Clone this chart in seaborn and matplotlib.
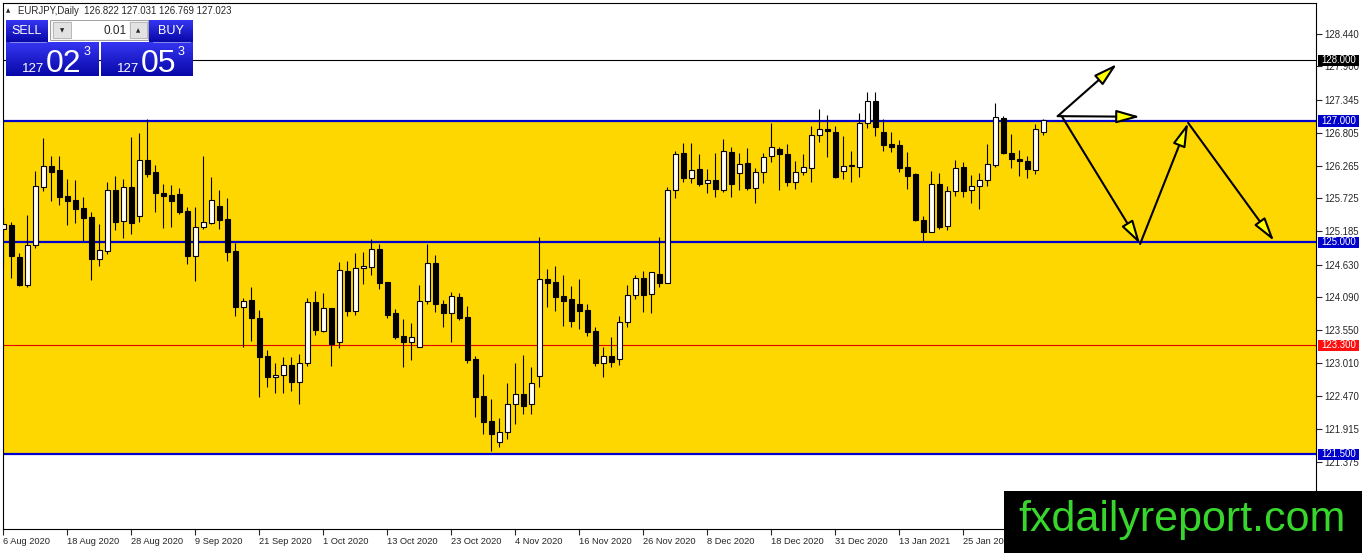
import numpy as np
import pandas as pd
import matplotlib
matplotlib.use('Agg')
import matplotlib.pyplot as plt
import matplotlib.transforms as mtransforms
from matplotlib.patches import Rectangle
from matplotlib.colors import LinearSegmentedColormap
import seaborn as sns

# EURJPY daily candles, 6 Aug 2020 onwards
opens = [125.218, 125.284, 124.761, 124.29, 124.954, 125.916, 126.257, 126.19, 125.762, 125.696,
         125.57, 125.42, 124.72, 124.86, 125.861, 125.355, 125.905, 125.438, 126.356, 126.164,
         125.806, 125.78, 125.795, 125.515, 124.778, 125.256, 125.322, 125.597, 125.383, 124.855,
         123.936, 124.046, 123.749, 123.12, 122.77, 122.81, 122.974, 122.70, 123.0, 124.02,
         123.54, 123.91, 123.36, 124.525, 123.87, 124.569, 124.596, 124.888, 124.35, 123.837,
         123.452, 123.358, 123.276, 124.03, 124.65, 123.98, 123.837, 124.09, 123.76, 123.073,
         122.467, 122.05, 121.697, 121.873, 122.33, 122.495, 122.33, 122.792, 124.387, 124.35,
         124.112, 124.057, 123.98, 123.88, 123.535, 123.001, 123.127, 123.067, 123.677, 124.129,
         124.404, 124.14, 124.475, 124.321, 125.861, 126.478, 126.054, 126.202, 125.971, 126.026,
         125.861, 126.494, 126.136, 126.312, 125.90, 126.153, 126.422, 126.538, 126.455, 125.999,
         126.153, 126.219, 126.769, 126.868, 126.813, 126.175, 126.257, 126.246, 126.961, 127.33,
         126.813, 126.615, 126.604, 126.246, 126.12, 125.366, 125.174, 125.96, 125.26, 125.85,
         126.246, 125.86, 125.927, 126.026, 126.274, 127.044, 126.466, 126.367, 126.345, 126.19,
         126.822]
highs = [125.559, 125.339, 124.827, 125.449, 126.175, 126.725, 126.422, 126.42, 126.043, 126.026,
         125.74, 125.504, 125.30, 126.0, 126.09, 126.037, 126.73, 126.797, 127.03, 126.274,
         125.96, 125.944, 125.889, 125.586, 125.586, 126.42, 126.07, 125.86, 125.724, 124.981,
         124.074, 124.255, 123.88, 123.22, 123.0, 123.11, 123.11, 123.155, 124.074, 124.195,
         124.167, 123.91, 124.679, 124.69, 124.816, 124.84, 125.047, 124.97, 124.35, 123.89,
         123.727, 123.66, 124.294, 124.97, 124.79, 124.046, 124.184, 124.156, 123.947, 123.122,
         122.825, 122.407, 122.094, 122.682, 123.0, 123.139, 122.935, 125.08, 124.552, 124.607,
         124.459, 124.277, 124.387, 123.98, 123.606, 123.265, 123.43, 123.782, 124.294, 124.46,
         124.53, 124.503, 125.091, 125.905, 126.505, 126.632, 126.643, 126.45, 126.2, 126.478,
         126.703, 126.577, 126.467, 126.56, 126.22, 126.478, 126.961, 126.576, 126.615, 126.34,
         126.455, 126.923, 127.198, 127.099, 126.923, 126.752, 126.505, 127.126, 127.473, 127.473,
         127.027, 126.813, 126.686, 126.483, 126.136, 125.438, 126.175, 126.147, 125.93, 126.356,
         126.33, 126.109, 126.136, 126.615, 127.29, 127.088, 126.78, 126.52, 126.423, 126.95,
         127.031]
lows = [124.624, 124.404, 124.283, 124.266, 124.899, 125.845, 125.685, 125.614, 125.284, 125.322,
        125.025, 124.376, 124.613, 124.80, 125.201, 125.075, 125.135, 125.339, 126.08, 125.504,
        125.229, 125.245, 125.465, 124.64, 124.365, 125.218, 125.30, 125.212, 124.695, 123.782,
        123.276, 123.375, 122.45, 122.605, 122.517, 122.517, 122.55, 122.33, 122.957, 123.47,
        123.524, 122.957, 123.248, 123.788, 123.798, 124.31, 124.459, 124.22, 123.744, 123.397,
        122.946, 123.056, 123.265, 123.98, 123.854, 123.595, 123.36, 123.716, 123.012, 122.12,
        121.835, 121.56, 121.626, 121.747, 122.0, 122.16, 122.16, 122.605, 123.936, 123.87,
        123.617, 123.595, 123.562, 123.452, 122.957, 122.78, 122.946, 122.973, 123.595, 124.057,
        123.854, 123.837, 124.255, 124.321, 125.724, 126.0, 125.982, 125.927, 125.806, 125.74,
        125.834, 125.74, 125.861, 125.861, 125.652, 125.971, 126.329, 125.861, 125.933, 125.878,
        126.109, 125.988, 126.648, 126.412, 126.065, 126.043, 126.0, 126.081, 126.879, 126.758,
        126.505, 126.494, 126.164, 125.872, 125.35, 125.025, 125.174, 125.218, 125.2, 125.768,
        125.751, 125.641, 125.542, 125.933, 126.246, 126.45, 126.219, 126.098, 126.054, 126.12,
        126.769]
closes = [125.295, 124.778, 124.294, 124.954, 125.927, 126.257, 126.164, 125.75, 125.685, 125.548,
          125.405, 124.72, 124.87, 125.861, 125.339, 125.905, 125.322, 126.356, 126.125, 125.817,
          125.762, 125.685, 125.504, 124.778, 125.245, 125.328, 125.696, 125.366, 124.844, 123.936,
          124.03, 123.744, 123.111, 122.77, 122.81, 122.974, 122.70, 123.0, 124.008, 123.55,
          123.91, 123.32, 124.54, 123.865, 124.569, 124.607, 124.888, 124.332, 123.80, 123.43,
          123.348, 123.43, 124.03, 124.65, 123.98, 123.837, 124.112, 123.744, 123.056, 122.45,
          122.038, 121.83, 121.862, 122.33, 122.495, 122.30, 122.682, 124.387, 124.33, 124.10,
          124.035, 123.705, 123.87, 123.523, 123.001, 123.127, 123.028, 123.677, 124.129, 124.404,
          124.129, 124.503, 124.321, 125.861, 126.45, 126.054, 126.191, 125.96, 126.026, 125.872,
          126.505, 125.96, 126.29, 125.889, 126.153, 126.411, 126.565, 126.45, 125.999, 126.153,
          126.235, 126.769, 126.862, 126.835, 126.081, 126.257, 126.26, 126.961, 127.33, 126.906,
          126.604, 126.576, 126.23, 126.098, 125.366, 125.174, 125.96, 125.256, 125.85, 126.23,
          125.85, 125.927, 126.026, 126.285, 127.06, 126.466, 126.367, 126.345, 126.208, 126.868,
          127.023]

date_labels = ['6 Aug 2020', '18 Aug 2020', '28 Aug 2020', '9 Sep 2020', '21 Sep 2020',
               '1 Oct 2020', '13 Oct 2020', '23 Oct 2020', '4 Nov 2020', '16 Nov 2020',
               '26 Nov 2020', '8 Dec 2020', '18 Dec 2020', '31 Dec 2020', '13 Jan 2021',
               '25 Jan 2021']
bars_per_label = 8

price_ticks = [128.440, 127.900, 127.345, 126.805, 126.265, 125.725, 125.185,
               124.630, 124.090, 123.550, 123.010, 122.470, 121.915, 121.375]

zone_low, zone_high = 121.5, 127.0
blue_levels = [127.0, 125.0, 121.5]
black_level = 128.0
red_level = 123.3

# hand drawn scenario arrows: (bar, price) points
arrow_up = [(131.8, 127.08), (139.2, 127.94)]
arrow_flat = [(131.8, 127.08), (142.1, 127.07)]
arrow_zigzag = [(132.3, 127.08), (142.1, 124.97), (148.1, 126.97), (158.85, 125.02)]

header = 'EURJPY,Daily  126.822 127.031 126.769 127.023'
bid_big, bid_small, bid_frac = '02', '127', '3'
ask_big, ask_small, ask_frac = '05', '127', '3'
lot = '0.01'

sns.set_style('white')
plt.rcParams['font.family'] = ['Liberation Sans', 'DejaVu Sans']

df = pd.DataFrame({'open': opens, 'high': highs, 'low': lows, 'close': closes})
df['bar'] = np.arange(len(df))
df['up'] = df['close'] >= df['open']
df['body'] = (df['close'] - df['open']).abs().clip(lower=0.012)
df['bottom'] = df[['open', 'close']].min(axis=1)

W, H = 1362, 553
fig = plt.figure(figsize=(W / 100, H / 100), dpi=100)
fig.patch.set_facecolor('white')
left, right, top, bottom = 3, 1316, 3, 529
ax = fig.add_axes([left / W, (H - bottom) / H, (right - left) / W, (bottom - top) / H])
ax.set_facecolor('white')

YELLOW = '#FFD700'
BLUE = '#0000CC'

ax.axhspan(zone_low, zone_high, color=YELLOW, lw=0, zorder=0)
for lv in blue_levels:
    ax.axhline(lv, color=BLUE, lw=1.6, zorder=2)
ax.axhline(black_level, color='black', lw=0.8, zorder=2)
ax.axhline(red_level, color='#E00000', lw=0.8, zorder=2)

ax.vlines(df['bar'], df['low'], df['high'], color='black', lw=0.8, zorder=3)
ax.bar(df['bar'], df['body'], bottom=df['bottom'], width=0.62,
       color=np.where(df['up'], 'white', 'black'), edgecolor='black', lw=0.8, zorder=4)

# scenario arrows
for path in [arrow_up, arrow_flat, arrow_zigzag]:
    for (x0, y0), (x1, y1) in zip(path[:-1], path[1:]):
        ax.annotate('', xy=(x1, y1), xytext=(x0, y0), zorder=6,
                    arrowprops=dict(arrowstyle='-|>,head_length=0.9,head_width=0.25',
                                    mutation_scale=16, fc='yellow', ec='black', lw=1.5,
                                    shrinkA=0, shrinkB=0))

xpx = lambda px: (px - 3.3) / 8.0
ax.set_xlim(xpx(left), xpx(right))
ax.set_ylim(127 - (bottom - 121) / 60.6, 127 + (121 - top) / 60.6)

ax.set_xticks(np.arange(len(date_labels)) * bars_per_label)
ax.set_xticklabels(date_labels, ha='left')
ax.yaxis.tick_right()
ax.set_yticks(price_ticks)
ax.set_yticklabels([f'{p:.3f}' for p in price_ticks])
ax.tick_params(axis='x', direction='out', length=4, width=0.8, pad=2, labelsize=6.7, bottom=True)
ax.tick_params(axis='y', direction='out', length=4, width=0.8, pad=2, labelsize=6.9, right=True)
for sp in ax.spines.values():
    sp.set_color('black')
    sp.set_linewidth(0.8)

# coloured level tags on the price scale
tr = mtransforms.blended_transform_factory(ax.transAxes, ax.transData)
tag_h = 11 / 60.6
for lv, col in [(black_level, 'black'), (127.0, BLUE), (125.0, BLUE),
                (red_level, '#FF1010'), (121.5, BLUE)]:
    ax.add_patch(Rectangle((1 + 2 / 1313, lv - tag_h / 2), 41 / 1313, tag_h, transform=tr,
                           facecolor=col, edgecolor='none', clip_on=False, zorder=10))
    ax.text(1 + 5 / 1313, lv, f'{lv:.3f}', transform=tr, color='white', fontsize=6.9,
            ha='left', va='center', clip_on=False, zorder=11)

# overlay in pixel coords for panel, header and logo
ov = fig.add_axes([0, 0, 1, 1], zorder=20)
ov.axis('off')
blue_cmap = LinearSegmentedColormap.from_list('btn', ['#3535f2', '#0808a8'])


def grad_box(x0, y0, x1, y1):
    ov.imshow(np.linspace(0, 1, 32).reshape(-1, 1), cmap=blue_cmap, aspect='auto',
              extent=(x0, x1, y1, y0), zorder=1)


grad_box(6, 20, 48, 42)
grad_box(149, 20, 193, 42)
grad_box(6, 42, 99, 76)
grad_box(101, 42, 193, 76)
ov.plot([10, 46], [42, 42], color='#8a8ae8', lw=0.7, zorder=2)
ov.plot([153, 190], [42, 42], color='#8a8ae8', lw=0.7, zorder=2)
ov.add_patch(Rectangle((50, 20), 98, 20, facecolor='#f4f4f4', edgecolor='#a0a0a0', lw=0.7, zorder=1))
ov.add_patch(Rectangle((53, 22), 18, 16, facecolor='#e2e2e2', edgecolor='#b0b0b0', lw=0.6, zorder=2))
ov.add_patch(Rectangle((72, 21), 57, 18, facecolor='white', edgecolor='none', zorder=2))
ov.add_patch(Rectangle((130, 22), 17, 16, facecolor='#e2e2e2', edgecolor='#b0b0b0', lw=0.6, zorder=2))
ov.text(62, 30.5, '▼', fontsize=4, ha='center', va='center', zorder=3, family='DejaVu Sans')
ov.text(138.5, 30.5, '▲', fontsize=4, ha='center', va='center', zorder=3, family='DejaVu Sans')
ov.text(127, 30.5, lot, fontsize=8.5, ha='right', va='center', zorder=3)
ov.text(27, 31, 'SELL', fontsize=9, color='white', ha='center', va='center', zorder=3)
ov.text(171, 31, 'BUY', fontsize=9, color='white', ha='center', va='center', zorder=3)
for xs, xb, xf, small, big, frac in [(44, 46, 84, bid_small, bid_big, bid_frac),
                                     (139, 141, 178, ask_small, ask_big, ask_frac)]:
    ov.text(xs, 72, small, fontsize=9.5, color='white', ha='right', va='baseline', zorder=3)
    ov.text(xb, 71.5, big, fontsize=23, color='white', ha='left', va='baseline', zorder=3)
    ov.text(xf, 55, frac, fontsize=9, color='white', ha='left', va='baseline', zorder=3)

ov.text(8, 10.5, '▲', fontsize=4, ha='center', va='center', family='DejaVu Sans')
ov.text(18, 10.5, header, fontsize=6.9, ha='left', va='center')

ov.add_patch(Rectangle((1004, 491), 358, 62, facecolor='black', edgecolor='none', zorder=5))
ov.text(1182, 520, 'fxdailyreport.com', fontsize=31, color='#38d62c', ha='center',
        va='center', zorder=6)

ov.set_xlim(0, W)
ov.set_ylim(H, 0)

fig.savefig('out.png', dpi=100)
